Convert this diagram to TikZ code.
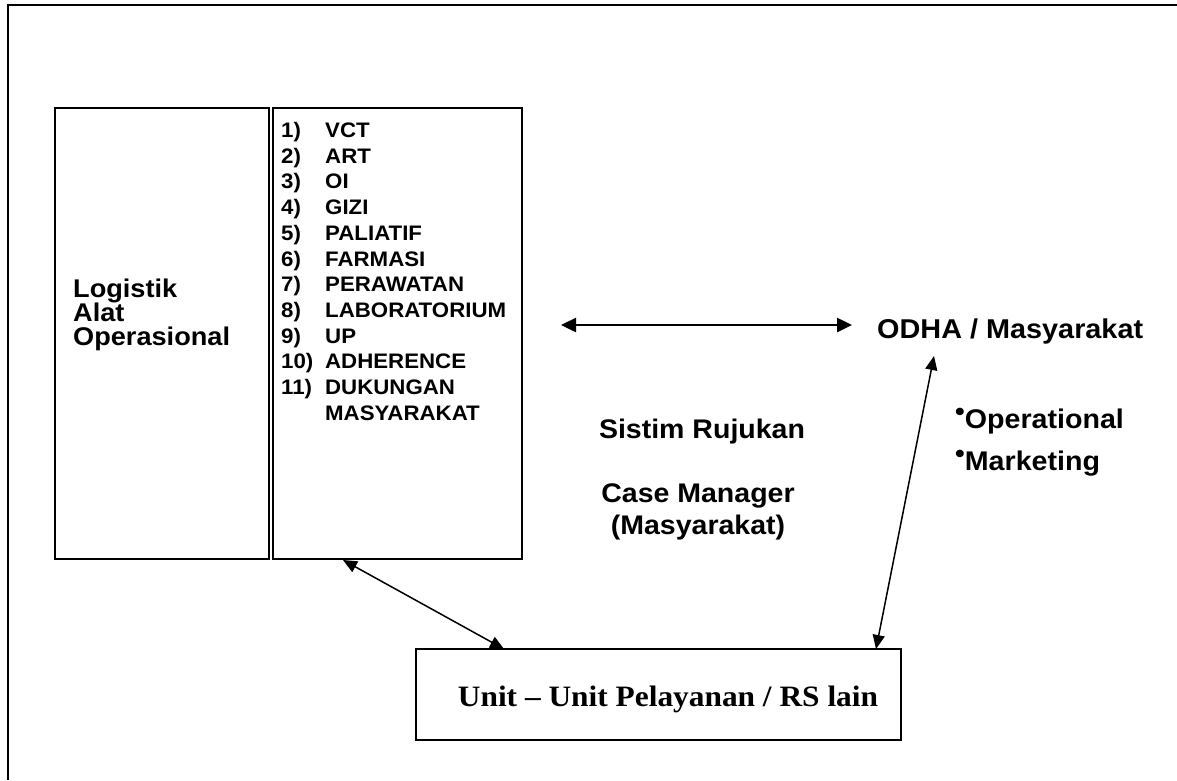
\documentclass[tikz,border=0pt]{standalone}
\usepackage{fontspec}
\setmainfont{Liberation Sans}
\newfontfamily\serifb{Liberation Serif}
\usepackage{graphicx}
\usetikzlibrary{arrows.meta}
\newcommand{\sx}[1]{\scalebox{1.06}[1]{#1}}
\newcommand{\li}[2]{\hbox{\sx{\makebox[41.5pt][l]{#1}#2}}}
\newcommand{\ci}[1]{\hbox to 0pt{\hss\sx{#1}\hss}}
\newcommand{\bul}{\raisebox{7.5pt}{\fontsize{26}{26}\selectfont •}}
\begin{document}
\begin{tikzpicture}[x=1pt,y=-1pt,
  frame/.style={line width=2pt},
  boxline/.style={draw, line width=1.8pt, inner sep=0pt, anchor=north west},
  lbl/.style={inner sep=0pt, font=\bfseries},
  tipA/.tip={Triangle[length=15pt,width=14pt]},
  tipB/.tip={Triangle[length=14pt,width=12pt]},
  dblh/.style={tipA-tipA, line width=2.5pt},
  dbld/.style={tipB-tipB, line width=1.5pt},
]
\useasboundingbox (0,0) rectangle (1177,780);
\fill[white] (0,0) rectangle (1177,780);
\draw[frame] (8,780) -- (8,5) -- (1177,5);

% boxes
\node[boxline, minimum width=214pt, minimum height=451pt] (logbox) at (54,107) {};
\node[boxline, minimum width=249pt, minimum height=451pt] (listbox) at (272,107) {};
\node[boxline, minimum width=485pt, minimum height=91pt] (unit) at (415,648) {};

% left box text
\node[lbl, anchor=base west] (logtext) at (73,297) {\fontsize{25.6}{24}\selectfont
  \vtop{\baselineskip=24pt\lineskiplimit=-100pt\lineskip=0pt
  \hbox{\sx{Logistik}}\hbox{\sx{Alat}}\hbox{\sx{Operasional}}}};

% list
\node[lbl, anchor=base west] (list) at (281,137.5) {\fontsize{21}{25.7}\selectfont
  \vtop{\baselineskip=25.7pt\lineskiplimit=-100pt\lineskip=0pt
  \li{1)}{VCT}
  \li{2)}{ART}
  \li{3)}{OI}
  \li{4)}{GIZI}
  \li{5)}{PALIATIF}
  \li{6)}{FARMASI}
  \li{7)}{PERAWATAN}
  \li{8)}{LABORATORIUM}
  \li{9)}{UP}
  \li{10)}{ADHERENCE}
  \li{11)}{DUKUNGAN}
  \li{}{MASYARAKAT}}};

% right texts
\node[lbl, anchor=base west] (odha) at (877,338) {\fontsize{27.2}{30}\selectfont\sx{ODHA / Masyarakat}};
\node[lbl, anchor=base west] (oper) at (955,428) {\fontsize{27}{28}\selectfont\sx{\bul Operational}};
\node[lbl, anchor=base west] (mark) at (955,470) {\fontsize{27}{28}\selectfont\sx{\bul Marketing}};

% middle texts
\node[lbl, anchor=base] (sistim) at (702,438) {\fontsize{26.9}{30}\selectfont\sx{Sistim Rujukan}};
\node[lbl, anchor=base] (cm) at (698,502) {\fontsize{26.9}{32}\selectfont
  \vtop{\baselineskip=32pt\lineskiplimit=-100pt\lineskip=0pt
  \ci{Case Manager}\ci{(Masyarakat)}}};

% unit text
\node[inner sep=0pt, anchor=base] (unittext) at (668,706) {\serifb\bfseries\fontsize{29.6}{34}\selectfont\sx{Unit – Unit Pelayanan / RS lain}};

% connectors
\coordinate (h1) at (561,325);
\coordinate (h2) at (852,325);
\coordinate (d1a) at (343,560);
\coordinate (d1b) at (504,649);
\coordinate (d2a) at (934,356);
\coordinate (d2b) at (876,649);
\draw[dblh] (h1) -- (h2);
\draw[dbld] (d1a) -- (d1b);
\draw[dbld] (d2a) -- (d2b);
\end{tikzpicture}
\end{document}
